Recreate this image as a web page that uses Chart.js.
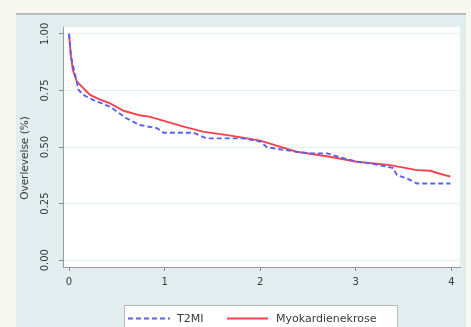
<!DOCTYPE html>
<html>
<head>
<meta charset="utf-8">
<script src="https://cdn.jsdelivr.net/npm/chart.js@4.4.1/dist/chart.umd.min.js"></script>
<style>
  html, body { margin: 0; padding: 0; background: #f8f8f3; }
  #wrap { width: 471px; height: 327px; }
</style>
</head>
<body>
<div id="wrap"><canvas id="km" width="471" height="327"></canvas></div>
<script>
// Kaplan-Meier survival, years of follow-up (x) vs survival proportion (y)
const t2miYears = [0, 0.02, 0.06, 0.10, 0.15, 0.25, 0.43, 0.60, 0.74, 0.92, 0.99, 1.30, 1.44, 1.82, 2.00, 2.07, 2.38, 2.52, 2.70, 2.84, 3.01, 3.15, 3.33, 3.39, 3.43, 3.54, 3.64, 3.99];
const t2miSurv  = [1.00, 0.90, 0.826, 0.752, 0.73, 0.708, 0.678, 0.627, 0.597, 0.583, 0.563, 0.563, 0.538, 0.538, 0.524, 0.499, 0.479, 0.472, 0.472, 0.454, 0.435, 0.428, 0.413, 0.407, 0.376, 0.36, 0.339, 0.339];

const nekroseYears = [0, 0.02, 0.04, 0.08, 0.22, 0.32, 0.43, 0.57, 0.74, 0.85, 1.02, 1.20, 1.40, 1.69, 2.00, 2.38, 2.73, 3.01, 3.36, 3.64, 3.78, 3.87, 3.99];
const nekroseSurv  = [1.00, 0.90, 0.84, 0.79, 0.73, 0.71, 0.693, 0.66, 0.64, 0.633, 0.612, 0.59, 0.568, 0.55, 0.528, 0.479, 0.457, 0.435, 0.42, 0.398, 0.395, 0.383, 0.369];

const xTicks = [0, 1, 2, 3, 4];
const yTicks = [0, 0.25, 0.5, 0.75, 1];
const yTickLabels = ['0.00', '0.25', '0.50', '0.75', '1.00'];

const seriesNames = ['T2MI', 'Myokardienekrose'];
const FONT = '"DejaVu Sans", sans-serif';

function toPoints(xs, ys) {
    return xs.map((x, i) => ({ x: x, y: ys[i] }));
}

// panel background, white plot region, rotated y labels and the boxed legend
const stataFrame = {
    id: 'stataFrame',
    beforeDraw(chart) {
        const ctx = chart.ctx;
        const a = chart.chartArea;
        ctx.save();
        ctx.fillStyle = '#f8f8f3';
        ctx.fillRect(0, 0, chart.width, chart.height);
        ctx.fillStyle = '#e1edef';
        ctx.fillRect(16, 15, 450, chart.height - 15);
        ctx.fillStyle = '#b9bcb8';
        ctx.fillRect(16, 13, 450, 2);
        ctx.fillStyle = '#ffffff';
        ctx.fillRect(a.left, a.top, a.right - a.left, a.bottom - a.top);
        ctx.restore();
    },
    afterDraw(chart) {
        const ctx = chart.ctx;
        const y = chart.scales.y;
        ctx.save();
        ctx.fillStyle = '#3a3a3a';
        ctx.font = '10px ' + FONT;
        ctx.textAlign = 'center';
        ctx.textBaseline = 'middle';
        yTicks.forEach((v, i) => {
            ctx.save();
            ctx.translate(45, y.getPixelForValue(v));
            ctx.rotate(-Math.PI / 2);
            ctx.fillText(yTickLabels[i], 0, 0);
            ctx.restore();
        });
        ctx.save();
        ctx.font = '10.5px ' + FONT;
        ctx.translate(25, 158);
        ctx.rotate(-Math.PI / 2);
        ctx.fillText('Overlevelse (%)', 0, 0);
        ctx.restore();

        // legend
        ctx.fillStyle = '#ffffff';
        ctx.strokeStyle = '#b8bcbc';
        ctx.lineWidth = 1;
        ctx.fillRect(124.5, 305.5, 273, 30);
        ctx.strokeRect(124.5, 305.5, 273, 30);
        const items = [
            { x0: 128, x1: 170, tx: 177 },
            { x0: 227, x1: 268, tx: 276 }
        ];
        chart.data.datasets.forEach((ds, i) => {
            const it = items[i];
            ctx.strokeStyle = ds.borderColor;
            ctx.lineWidth = ds.borderWidth;
            ctx.setLineDash(ds.borderDash || []);
            ctx.beginPath();
            ctx.moveTo(it.x0, 318.5);
            ctx.lineTo(it.x1, 318.5);
            ctx.stroke();
            ctx.setLineDash([]);
            ctx.fillStyle = '#3a3a3a';
            ctx.font = '11px ' + FONT;
            ctx.textAlign = 'left';
            ctx.fillText(ds.label, it.tx, 319);
        });
        ctx.restore();
    }
};

new Chart(document.getElementById('km'), {
    type: 'line',
    data: {
        datasets: [{
            label: seriesNames[0],
            data: toPoints(t2miYears, t2miSurv),
            borderColor: '#5861f5',
            borderWidth: 1.9,
            borderDash: [5, 3],
            pointRadius: 0,
            tension: 0,
            fill: false
        }, {
            label: seriesNames[1],
            data: toPoints(nekroseYears, nekroseSurv),
            borderColor: '#f5424e',
            borderWidth: 1.9,
            pointRadius: 0,
            tension: 0,
            fill: false
        }]
    },
    options: {
        responsive: false,
        animation: false,
        layout: { padding: { left: 16, right: 11, top: 27, bottom: 0 } },
        plugins: {
            legend: { display: false },
            tooltip: { enabled: false }
        },
        scales: {
            x: {
                type: 'linear',
                min: -0.063,
                max: 4.09,
                afterBuildTicks: (s) => { s.ticks = xTicks.map(v => ({ value: v })); },
                afterFit: (s) => { s.height = 60; },
                grid: { drawOnChartArea: false, tickLength: 4, tickColor: '#8a8a8a' },
                border: { color: '#9a9a9a', width: 1 },
                ticks: {
                    color: '#3a3a3a',
                    font: { family: FONT, size: 10 },
                    padding: 5,
                    maxRotation: 0,
                    callback: (v) => String(v)
                },
                title: {
                    display: true,
                    text: 'Antal år',
                    color: '#3a3a3a',
                    font: { family: FONT, size: 10.5 },
                    padding: { top: 0, bottom: 0 }
                }
            },
            y: {
                type: 'linear',
                min: -0.03,
                max: 1.03,
                afterBuildTicks: (s) => { s.ticks = yTicks.map(v => ({ value: v })); },
                afterFit: (s) => { s.width = 47; },
                grid: { color: '#e6eff1', lineWidth: 1, tickLength: 4, tickColor: '#8a8a8a' },
                border: { color: '#9a9a9a', width: 1 },
                ticks: { callback: () => '' }
            }
        }
    },
    plugins: [stataFrame]
});
</script>
</body>
</html>
